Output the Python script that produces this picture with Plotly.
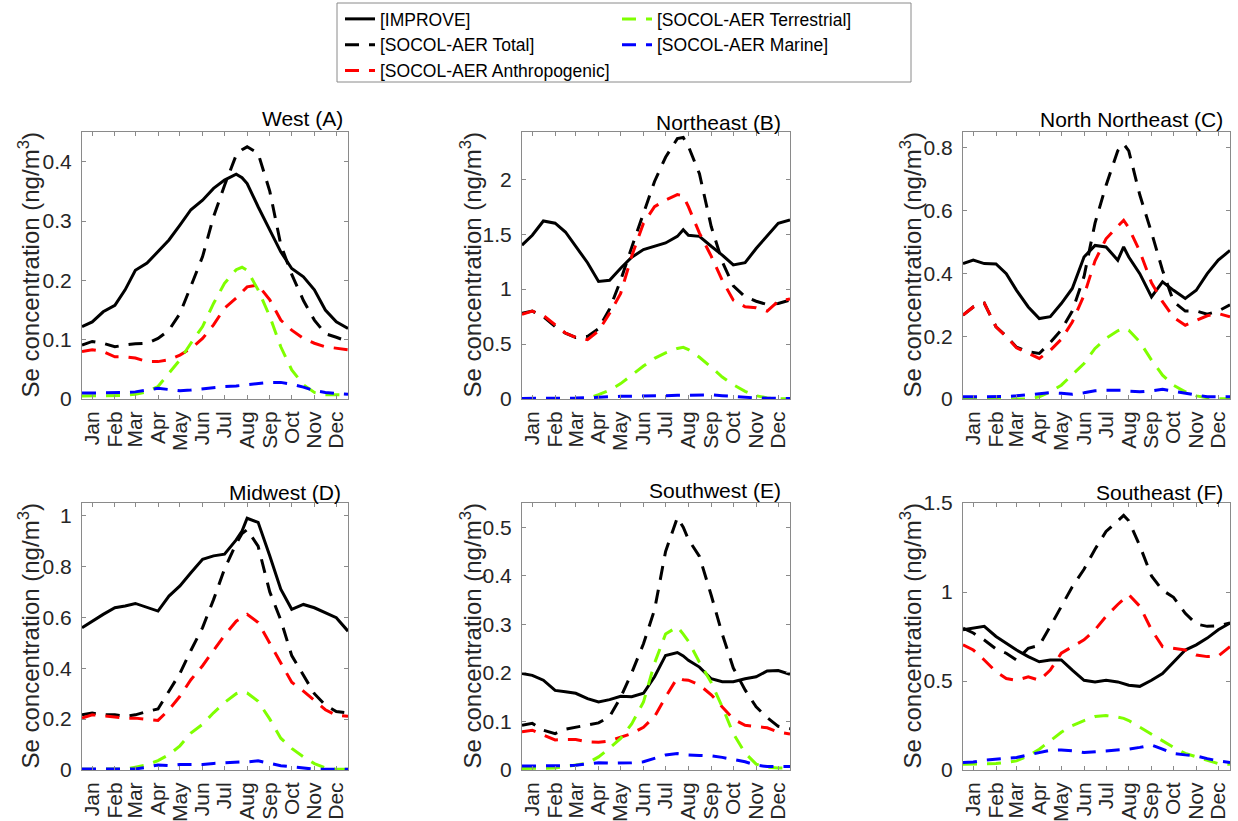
import plotly.graph_objects as go

W, H = 1238, 821
FONT = "Liberation Sans, Arial, Helvetica, sans-serif"

# ---------------- data (day of year grid) ----------------
DAYS = [1, 15, 30, 46, 60, 74, 90, 105, 120, 135, 150, 166, 181, 196, 212, 220,
        227, 242, 258, 273, 288, 304, 319, 334, 349, 365]
MONTH_DAYS = [15, 46, 74, 105, 135, 166, 196, 227, 258, 288, 319, 349]
MONTHS = ["Jan", "Feb", "Mar", "Apr", "May", "Jun", "Jul", "Aug", "Sep", "Oct", "Nov", "Dec"]

SERIES = ["[IMPROVE]", "[SOCOL-AER Total]", "[SOCOL-AER Anthropogenic]",
          "[SOCOL-AER Terrestrial]", "[SOCOL-AER Marine]"]
COLORS = ["#000000", "#000000", "#FF0000", "#7FFF00", "#0000FF"]

# West (A)
A_improve = [0.122, 0.130, 0.147, 0.158, 0.184, 0.217, 0.229, 0.248, 0.268, 0.293, 0.319, 0.335, 0.355,
             0.369, 0.379, 0.373, 0.363, 0.324, 0.285, 0.248, 0.220, 0.206, 0.184, 0.150, 0.130, 0.119]
A_total = [0.091, 0.097, 0.094, 0.088, 0.091, 0.093, 0.094, 0.102, 0.116, 0.144, 0.190, 0.240, 0.307,
           0.360, 0.411, 0.420, 0.425, 0.414, 0.350, 0.260, 0.210, 0.166, 0.133, 0.110, 0.104, 0.097]
A_anthro = [0.080, 0.083, 0.080, 0.071, 0.071, 0.069, 0.063, 0.063, 0.066, 0.074, 0.085, 0.102, 0.125,
            0.153, 0.170, 0.180, 0.189, 0.192, 0.167, 0.133, 0.116, 0.102, 0.094, 0.088, 0.085, 0.083]
A_terr = [0.005, 0.005, 0.005, 0.005, 0.006, 0.008, 0.012, 0.021, 0.043, 0.066, 0.094, 0.122, 0.161,
          0.195, 0.218, 0.222, 0.217, 0.184, 0.139, 0.088, 0.049, 0.024, 0.011, 0.007, 0.007, 0.007]
A_marine = [0.010, 0.010, 0.010, 0.010, 0.011, 0.012, 0.015, 0.018, 0.016, 0.014, 0.015, 0.017, 0.020,
            0.021, 0.022, 0.023, 0.024, 0.026, 0.028, 0.028, 0.025, 0.020, 0.014, 0.011, 0.010, 0.008]

# Northeast (B)
B_improve = [1.40, 1.49, 1.62, 1.60, 1.52, 1.39, 1.24, 1.07, 1.08, 1.19, 1.29, 1.36, 1.39,
             1.42, 1.48, 1.54, 1.49, 1.48, 1.39, 1.31, 1.22, 1.24, 1.37, 1.49, 1.60, 1.63]
B_total = [0.78, 0.80, 0.75, 0.66, 0.60, 0.56, 0.57, 0.64, 0.82, 1.08, 1.38, 1.70, 1.98,
           2.20, 2.37, 2.38, 2.30, 2.05, 1.57, 1.25, 1.03, 0.93, 0.89, 0.86, 0.87, 0.90]
B_anthro = [0.77, 0.80, 0.76, 0.67, 0.60, 0.56, 0.54, 0.62, 0.78, 0.96, 1.30, 1.60, 1.75,
            1.81, 1.86, 1.85, 1.75, 1.51, 1.30, 1.08, 0.90, 0.84, 0.83, 0.80, 0.89, 0.91]
B_terr = [0.0, 0.0, 0.0, 0.0, 0.0, 0.0, 0.005, 0.04, 0.08, 0.14, 0.22, 0.30, 0.37,
          0.42, 0.46, 0.47, 0.45, 0.38, 0.29, 0.20, 0.13, 0.07, 0.03, 0.01, 0.003, 0.003]
B_marine = [0.005, 0.005, 0.005, 0.005, 0.006, 0.008, 0.012, 0.018, 0.022, 0.024, 0.025, 0.025, 0.027,
            0.030, 0.033, 0.035, 0.036, 0.040, 0.038, 0.030, 0.022, 0.015, 0.010, 0.007, 0.005, 0.005]

# North Northeast (C)
C_improve = [0.431, 0.442, 0.431, 0.430, 0.399, 0.346, 0.293, 0.256, 0.262, 0.304, 0.352, 0.452, 0.489,
             0.484, 0.442, 0.484, 0.452, 0.399, 0.325, 0.373, 0.346, 0.320, 0.346, 0.399, 0.442, 0.473]
C_total = [0.267, 0.293, 0.305, 0.230, 0.200, 0.165, 0.150, 0.145, 0.180, 0.220, 0.280, 0.390, 0.560,
           0.680, 0.790, 0.812, 0.790, 0.650, 0.530, 0.410, 0.310, 0.280, 0.280, 0.270, 0.280, 0.300]
C_anthro = [0.267, 0.293, 0.305, 0.230, 0.198, 0.163, 0.145, 0.129, 0.155, 0.190, 0.245, 0.330, 0.440,
            0.510, 0.550, 0.569, 0.545, 0.470, 0.370, 0.310, 0.260, 0.235, 0.250, 0.265, 0.272, 0.262]
C_terr = [0.0, 0.0, 0.0, 0.0, 0.0, 0.0, 0.0, 0.007, 0.023, 0.044, 0.076, 0.113, 0.161,
          0.193, 0.217, 0.225, 0.219, 0.182, 0.124, 0.076, 0.044, 0.023, 0.010, 0.004, 0.001, 0.001]
C_marine = [0.007, 0.007, 0.007, 0.007, 0.008, 0.010, 0.013, 0.015, 0.020, 0.018, 0.015, 0.020, 0.026,
            0.028, 0.029, 0.028, 0.025, 0.023, 0.026, 0.031, 0.025, 0.018, 0.013, 0.007, 0.007, 0.007]

# Midwest (D)
D_improve = [0.559, 0.586, 0.612, 0.638, 0.645, 0.655, 0.640, 0.625, 0.684, 0.724, 0.776, 0.829, 0.842,
             0.849, 0.905, 0.940, 0.990, 0.974, 0.842, 0.711, 0.632, 0.651, 0.638, 0.618, 0.599, 0.546]
D_total = [0.217, 0.224, 0.217, 0.217, 0.211, 0.217, 0.230, 0.240, 0.310, 0.380, 0.470, 0.560, 0.670,
           0.790, 0.890, 0.930, 0.945, 0.880, 0.700, 0.590, 0.450, 0.370, 0.300, 0.255, 0.230, 0.224]
D_anthro = [0.204, 0.217, 0.213, 0.208, 0.204, 0.204, 0.200, 0.195, 0.237, 0.290, 0.355, 0.410, 0.470,
            0.530, 0.585, 0.600, 0.612, 0.580, 0.500, 0.420, 0.345, 0.310, 0.275, 0.237, 0.215, 0.211]
D_terr = [0.003, 0.003, 0.003, 0.003, 0.004, 0.011, 0.020, 0.037, 0.060, 0.095, 0.145, 0.180, 0.225,
          0.265, 0.300, 0.308, 0.303, 0.270, 0.200, 0.125, 0.085, 0.052, 0.025, 0.008, 0.003, 0.003]
D_marine = [0.004, 0.004, 0.004, 0.004, 0.004, 0.004, 0.011, 0.020, 0.017, 0.022, 0.022, 0.022, 0.026,
            0.029, 0.032, 0.032, 0.032, 0.036, 0.026, 0.017, 0.013, 0.008, 0.003, 0.003, 0.003, 0.003]

# Southwest (E)
E_improve = [0.199, 0.195, 0.185, 0.164, 0.161, 0.158, 0.147, 0.140, 0.145, 0.152, 0.151, 0.158, 0.192,
             0.236, 0.242, 0.235, 0.226, 0.212, 0.188, 0.182, 0.182, 0.188, 0.192, 0.204, 0.205, 0.197]
E_total = [0.092, 0.096, 0.082, 0.075, 0.084, 0.088, 0.092, 0.097, 0.110, 0.150, 0.200, 0.260, 0.330,
           0.450, 0.520, 0.500, 0.475, 0.440, 0.360, 0.280, 0.210, 0.165, 0.130, 0.108, 0.090, 0.085]
E_anthro = [0.079, 0.082, 0.072, 0.062, 0.063, 0.063, 0.058, 0.057, 0.060, 0.068, 0.075, 0.088, 0.110,
            0.150, 0.190, 0.186, 0.185, 0.175, 0.155, 0.130, 0.105, 0.092, 0.090, 0.087, 0.078, 0.074]
E_terr = [0.003, 0.003, 0.003, 0.004, 0.007, 0.010, 0.014, 0.027, 0.045, 0.065, 0.095, 0.140, 0.220,
          0.280, 0.295, 0.280, 0.265, 0.222, 0.180, 0.130, 0.075, 0.035, 0.012, 0.006, 0.004, 0.004]
E_marine = [0.008, 0.008, 0.008, 0.008, 0.009, 0.010, 0.012, 0.015, 0.014, 0.014, 0.015, 0.017, 0.024,
            0.031, 0.034, 0.032, 0.031, 0.030, 0.029, 0.026, 0.022, 0.017, 0.010, 0.007, 0.007, 0.007]

# Southeast (F)
F_improve = [0.788, 0.797, 0.807, 0.750, 0.712, 0.674, 0.637, 0.608, 0.618, 0.618, 0.561, 0.504, 0.495,
             0.504, 0.495, 0.485, 0.476, 0.470, 0.504, 0.542, 0.608, 0.674, 0.703, 0.741, 0.788, 0.826]
F_total = [0.797, 0.770, 0.730, 0.680, 0.656, 0.618, 0.684, 0.700, 0.807, 0.920, 1.030, 1.128, 1.240,
           1.340, 1.400, 1.430, 1.400, 1.260, 1.090, 1.010, 0.970, 0.880, 0.820, 0.807, 0.810, 0.826]
F_anthro = [0.703, 0.674, 0.618, 0.552, 0.514, 0.504, 0.523, 0.504, 0.561, 0.656, 0.693, 0.731, 0.788,
            0.863, 0.930, 0.960, 0.986, 0.920, 0.788, 0.693, 0.684, 0.674, 0.646, 0.637, 0.640, 0.693]
F_terr = [0.032, 0.032, 0.036, 0.036, 0.042, 0.051, 0.079, 0.117, 0.164, 0.212, 0.249, 0.278, 0.300,
          0.306, 0.297, 0.290, 0.278, 0.240, 0.202, 0.164, 0.127, 0.093, 0.074, 0.051, 0.036, 0.032]
F_marine = [0.042, 0.045, 0.055, 0.060, 0.064, 0.070, 0.085, 0.098, 0.111, 0.113, 0.108, 0.098, 0.102,
            0.106, 0.111, 0.114, 0.117, 0.127, 0.140, 0.117, 0.093, 0.085, 0.079, 0.064, 0.051, 0.042]

TITLES = ["West (A)", "Northeast (B)", "North Northeast (C)",
          "Midwest (D)", "Southwest (E)", "Southeast (F)"]
Y_MAX = [0.45, 2.43, 0.85, 1.05, 0.55, 1.5]
Y_DTICK = [0.1, 0.5, 0.2, 0.2, 0.1, 0.5]
Y_LABEL = "Se concentration (ng/m<sup>3</sup>)"

PANEL_DATA = [
    [A_improve, A_total, A_anthro, A_terr, A_marine],
    [B_improve, B_total, B_anthro, B_terr, B_marine],
    [C_improve, C_total, C_anthro, C_terr, C_marine],
    [D_improve, D_total, D_anthro, D_terr, D_marine],
    [E_improve, E_total, E_anthro, E_terr, E_marine],
    [F_improve, F_total, F_anthro, F_terr, F_marine],
]

# ---------------- layout geometry (pixels) ----------------
COL_X = [(82, 348), (522, 790), (963, 1230)]
ROW_Y = [(132, 399), (503, 770)]
YLAB_X = [28, 470, 910]
TITLE_RIGHT = [345, 783, 1225, 343, 783, 1225]
TITLE_Y = [118, 122, 120, 492, 490, 493]


def fx(px):
    return px / W


def fy(py):
    return 1 - py / H


fig = go.Figure()
layout = dict(
    width=W, height=H,
    margin=dict(l=0, r=0, t=0, b=0, pad=0, autoexpand=False),
    paper_bgcolor="white", plot_bgcolor="white",
    font=dict(family=FONT, color="#262626"),
    showlegend=True,
)
annotations = []
AX_COLOR = "#8a8a8a"

for i in range(6):
    r, c = divmod(i, 3)
    xs = "" if i == 0 else str(i + 1)
    x0, x1 = COL_X[c]
    y0, y1 = ROW_Y[r]
    for k in range(5):
        dash = "solid" if k == 0 else "14px,10px"
        fig.add_trace(go.Scatter(
            x=DAYS, y=PANEL_DATA[i][k], mode="lines",
            name=SERIES[k],
            line=dict(color=COLORS[k], width=3, dash=dash),
            xaxis="x" + xs, yaxis="y" + xs,
            showlegend=(i == 0),
            legend="legend" if k < 3 else "legend2",
        ))
    layout["xaxis" + xs] = dict(
        domain=[fx(x0), fx(x1)], anchor="y" + xs, range=[1, 365],
        tickmode="array", tickvals=MONTH_DAYS, ticktext=MONTHS, tickangle=-90,
        ticks="inside", ticklen=4, tickcolor=AX_COLOR,
        showline=True, linecolor=AX_COLOR, linewidth=1, mirror="ticks",
        showgrid=False, zeroline=False, automargin=False,
        tickfont=dict(size=21, family=FONT, color="#262626"),
        ticklabelstandoff=3,
    )
    layout["yaxis" + xs] = dict(
        domain=[fy(y1), fy(y0)], anchor="x" + xs, range=[0, Y_MAX[i]],
        tick0=0, dtick=Y_DTICK[i],
        ticks="inside", ticklen=4, tickcolor=AX_COLOR,
        showline=True, linecolor=AX_COLOR, linewidth=1, mirror="ticks",
        showgrid=False, zeroline=False, automargin=False,
        tickfont=dict(size=21, family=FONT, color="#262626"),
        ticklabelstandoff=5,
    )
    annotations.append(dict(
        text=TITLES[i], xref="paper", yref="paper",
        x=fx(TITLE_RIGHT[i]), y=fy(TITLE_Y[i]), xanchor="right", yanchor="middle",
        showarrow=False, font=dict(size=21, family=FONT, color="#000000"),
    ))
    annotations.append(dict(
        text=Y_LABEL, xref="paper", yref="paper",
        x=fx(YLAB_X[c]), y=fy((y0 + y1) / 2), xanchor="center", yanchor="middle",
        textangle=-90, showarrow=False,
        font=dict(size=24, family=FONT, color="#262626"),
    ))

legend_common = dict(
    xanchor="left", yanchor="top", bgcolor="rgba(0,0,0,0)", borderwidth=0,
    font=dict(size=17.5, family=FONT, color="#000000"), itemwidth=30,
    tracegroupgap=0, orientation="v", itemclick=False,
)
layout["legend"] = dict(x=fx(340), y=fy(1), **legend_common)
layout["legend2"] = dict(x=fx(617), y=fy(1), **legend_common)
layout["annotations"] = annotations
layout["shapes"] = [dict(
    type="rect", xref="paper", yref="paper",
    x0=fx(337), x1=fx(911), y0=fy(82), y1=fy(3),
    line=dict(color="#8a8a8a", width=1), fillcolor="rgba(0,0,0,0)",
)]

fig.update_layout(**layout)
fig.write_html(
    "out.html",
    config={"displayModeBar": False},
    post_script="document.body.style.margin='0px';document.body.style.overflow='hidden';",
)
